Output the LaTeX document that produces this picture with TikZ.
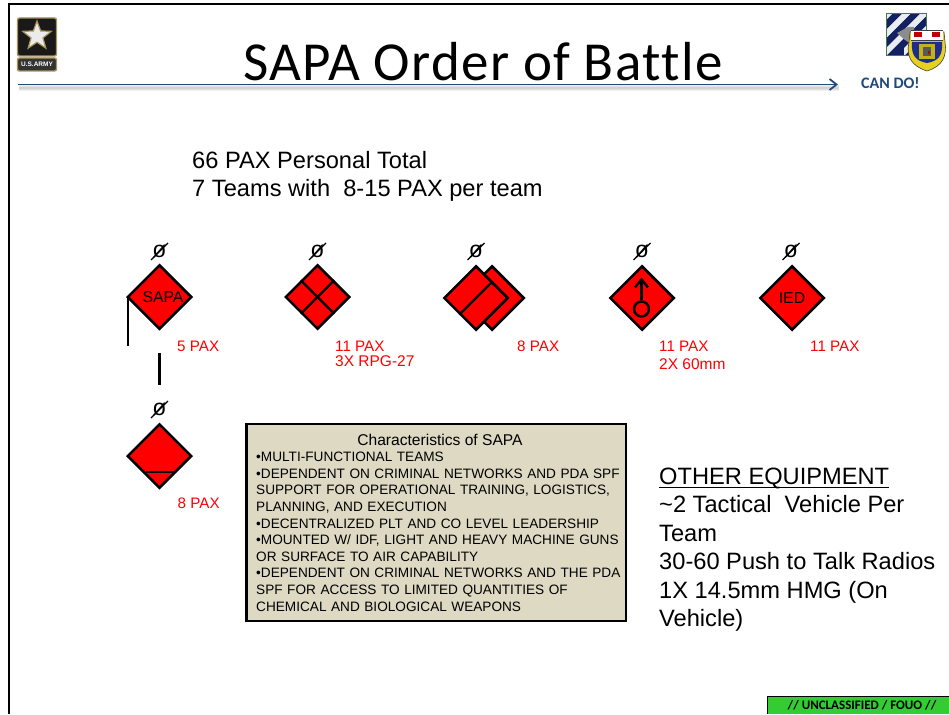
\documentclass[tikz,border=0pt]{standalone}
\usepackage{fontspec}
\setmainfont{Liberation Sans}
\newfontfamily\calib{Carlito}
\newfontfamily\calibt[LetterSpace=2.4,Ligatures=NoCommon]{Carlito}
\usetikzlibrary{shapes.geometric,arrows.meta,calc}
\definecolor{armyblue}{HTML}{1F497D}
\definecolor{boxtan}{HTML}{DDD9C3}
\definecolor{fouogreen}{HTML}{33CC33}
\definecolor{armygold}{HTML}{A8935A}
\definecolor{crestyellow}{HTML}{E6D21E}
\definecolor{crestblue}{HTML}{1B2F8C}
\newcommand{\ulbox}[1]{\setbox0\hbox{#1}\rlap{\rule[-4.3pt]{\wd0}{1.3pt}}\box0}
\tikzset{
  fs/.style={font=\fontsize{#1}{#1}\selectfont},
  sym/.style={diamond,draw=black,line width=2.5pt,fill=red,minimum size=64.5pt,inner sep=0pt,line join=miter},
  symline/.style={line width=2.4pt,black},
  staff/.style={line width=2.4pt,black},
  pax/.style={anchor=base west,inner sep=0pt,text=red,font=\fontsize{15.2}{15.2}\selectfont},
  ech/.style={inner sep=0pt,font=\fontsize{23}{23}\selectfont},
  head/.style={anchor=base west,inner sep=0pt,font=\fontsize{23.65}{23.65}\selectfont},
}
\begin{document}
\begin{tikzpicture}[x=1pt,y=-1pt]
\useasboundingbox (0,0) rectangle (949,714);
\fill[white] (0,0) rectangle (949,714);
% slide frame
\coordinate (frameA) at (8.5,714);
\coordinate (frameB) at (8.5,4.5);
\coordinate (frameC) at (949,4.5);
\draw[line width=2pt,black] (frameA) -- (frameB) -- (frameC);
% title rule with soft shadow
\coordinate (ruleA) at (18,84.5);
\coordinate (ruleB) at (838,84.5);
\foreach \w in {2,4,6}{
  \draw[line width=\w pt,black,opacity=.06] ($(ruleA)+(1,3.5)$) -- ($(ruleB)+(1,3.5)$);
}
\draw[line width=1.8pt,armyblue,-{Straight Barb[length=7pt,width=11pt,line width=1.8pt]}] (ruleA) -- (ruleB);
\node[inner sep=0pt,anchor=base west,font=\calibt\fontsize{55}{55}\selectfont] (title) at (243,80.5) {SAPA Order of Battle};
\node[inner sep=0pt,anchor=base west,text=armyblue,font=\calib\bfseries\fontsize{16}{16}\selectfont] (cando) at (861,89) {CAN DO!};
% army logo
\node[draw=armygold,line width=1.4pt,fill=black!90,rounded corners=2pt,minimum width=39pt,minimum height=38pt,inner sep=0pt] (logo) at (37,37) {};
\node[star,star points=5,star point ratio=2.4,draw=armygold,line width=1.2pt,fill=black!8,minimum size=30pt,inner sep=0pt] (logostar) at (37,36) {};
\node[draw=armygold,line width=1.4pt,fill=black!80,rounded corners=2pt,minimum width=39pt,minimum height=13pt,inner sep=0pt,text=white,font=\bfseries\fontsize{6.5}{6.5}\selectfont] (logotext) at (37,64.5) {U.S.ARMY};
% division patch
\begin{scope}
\clip (886,13) rectangle (926,55);
\fill[crestblue!70!black] (886,13) rectangle (926,55);
\foreach \d in {-18,0,18,36}{
  \fill[white!90!armyblue] ($(886,30)+(\d,0)$) -- ($(903,13)+(\d,0)$) -- ($(911,13)+(\d,0)$) -- ($(886,38)+(\d,0)$) -- cycle;
  \fill[white!90!armyblue] ($(886,48)+(\d,0)$) -- ($(921,13)+(\d,0)$) -- ($(929,13)+(\d,0)$) -- ($(886,56)+(\d,0)$) -- cycle;
}
\fill[black!45] (897,33) -- (908,27) -- (914,27) -- (914,46) -- (905,40) -- cycle;
\end{scope}
\draw[line width=.9pt,black!55!green!45!gray] (886,13) rectangle (926,55);
% crest
\fill[crestyellow,draw=black!75,line width=.6pt] (910,32) -- (944,32) -- (945,42) .. controls (947,56) and (943,66) .. (927,71) .. controls (911,66) and (906,56) .. (909,42) -- cycle;
\fill[crestblue] (912,42) .. controls (911,56) and (916,61) .. (927,63) .. controls (938,61) and (943,56) .. (942,42) -- cycle;
\fill[crestyellow!85!black] (919,44) rectangle (935,59);
\fill[black!65] (923,47) rectangle (931,56);
\fill[red!75!black] (928,51) rectangle (930,54);
\fill[white] (911,30.5) rectangle (943,40);
\fill[red!75!black] (914,32) rectangle (922,37);
\fill[red!75!black] (932,32) rectangle (940,37);
\draw[black!75,line width=.6pt] (911,30.5) -- (943,30.5) (911,40) -- (943,40);
% headline
\node[head] (headA) at (192,168) {66 PAX Personal Total};
\node[head] (headB) at (192,196) {7 Teams with\ \ 8-15 PAX per team};
% echelon marks
\node[ech] (e1) at (159.5,251.5) {ø};
\node[ech] (e2) at (317.5,251.5) {ø};
\node[ech] (e3) at (476,251.5) {ø};
\node[ech] (e4) at (642,251.5) {ø};
\node[ech] (e5) at (791,251.5) {ø};
\node[ech] (e6) at (159.5,409.5) {ø};
\foreach \n in {e1,e2,e3,e4,e5,e6}{
  \draw[line width=1.3pt] ($(\n.center)+(-8.5,8.5)$) -- ($(\n.center)+(8.5,-8.5)$);
}
% symbols
\node[sym] (s1) at (159.5,297) {};
\node[inner sep=0pt,fs=15.8] (s1t) at (163,297) {SAPA};
\coordinate (flagEnd) at (127.7,345.5);
\draw[staff] (flagEnd |- s1.west) -- (flagEnd);
\coordinate (linkA) at (159.5,353);
\coordinate (linkB) at (159.5,384.5);
\draw[staff] (linkA) -- (linkB);
\node[sym] (s2) at (317.5,297) {};
\draw[symline] (s2.north west) -- (s2.south east);
\draw[symline] (s2.north east) -- (s2.south west);
\node[sym] (s3b) at (492,298) {};
\node[sym] (s3) at (476,298) {};
\draw[symline] (s3.north east) -- (s3.south west);
\node[sym] (s4) at (642,298) {};
\node[circle,draw=black,line width=2.4pt,minimum size=15pt,inner sep=0pt] (s4c) at (641.5,309) {};
\coordinate (s4t) at (641.5,277.5);
\draw[symline,-{Straight Barb[length=8pt,width=13pt,line width=2.4pt]}] (s4c.north) -- (s4t);
\node[sym,fs=15.8] (s5) at (792,298) {IED};
\node[sym] (s6) at (159.5,456) {};
\coordinate (s6a) at (145.5,471.8);
\coordinate (s6b) at (174.5,471.8);
\draw[symline,line width=2pt] (s6a) -- (s6b);
% labels
\node[pax] (p1) at (177,351) {5 PAX};
\node[pax] (p2) at (335,351) {11 PAX};
\node[pax,fs=15.5] (p2b) at (335,366.5) {3X RPG-27};
\node[pax] (p3) at (517,351) {8 PAX};
\node[pax] (p4) at (659,351) {11 PAX};
\node[pax,fs=15.5] (p4b) at (659,369.5) {2X 60mm};
\node[pax] (p5) at (810,351) {11 PAX};
\node[pax] (p6) at (177.5,508.5) {8 PAX};
% characteristics box
\node[draw=black,line width=2.4pt,fill=boxtan,minimum width=379.5pt,minimum height=197.5pt,inner sep=0pt] (box) at (436.3,522.5) {};
\node[inner sep=0pt,anchor=base,fs=15.6] (boxhead) at (440,445) {Characteristics of SAPA};
\node[inner sep=0pt,anchor=north west,text width=372pt,align=left,font=\fontsize{13.62}{16.6}\selectfont] (boxtext) at (256,452) {%
•MULTI-FUNCTIONAL TEAMS\\
•DEPENDENT ON CRIMINAL NETWORKS AND PDA SPF\\
SUPPORT FOR OPERATIONAL TRAINING, LOGISTICS,\\
PLANNING, AND EXECUTION\\
•DECENTRALIZED PLT AND CO LEVEL LEADERSHIP\\
•MOUNTED W/ IDF, LIGHT AND HEAVY MACHINE GUNS\\
OR SURFACE TO AIR CAPABILITY\\
•DEPENDENT ON CRIMINAL NETWORKS AND THE PDA\\
SPF FOR ACCESS TO LIMITED QUANTITIES OF\\
CHEMICAL AND BIOLOGICAL WEAPONS};
% other equipment
\node[head] (o0) at (659,484) {\ulbox{OTHER EQUIPMENT}};
\node[head] (o1) at (659,512.5) {\textasciitilde 2 Tactical\ \ Vehicle Per};
\node[head] (o2) at (659,541) {Team};
\node[head] (o3) at (659,569.5) {30-60 Push to Talk Radios};
\node[head] (o4) at (659,598) {1X 14.5mm HMG (On};
\node[head] (o5) at (659,626.5) {Vehicle)};
% footer
\fill[fouogreen] (767,696) rectangle (949,714);
\coordinate (fA) at (767,714);
\coordinate (fB) at (767,696);
\coordinate (fC) at (949,696);
\draw[line width=1pt,black] (fA) -- (fB) -- (fC);
\node[inner sep=0pt,font=\calib\bfseries\fontsize{13}{13}\selectfont] (fouo) at (862,705.5) {// UNCLASSIFIED / FOUO //};
\end{tikzpicture}
\end{document}
